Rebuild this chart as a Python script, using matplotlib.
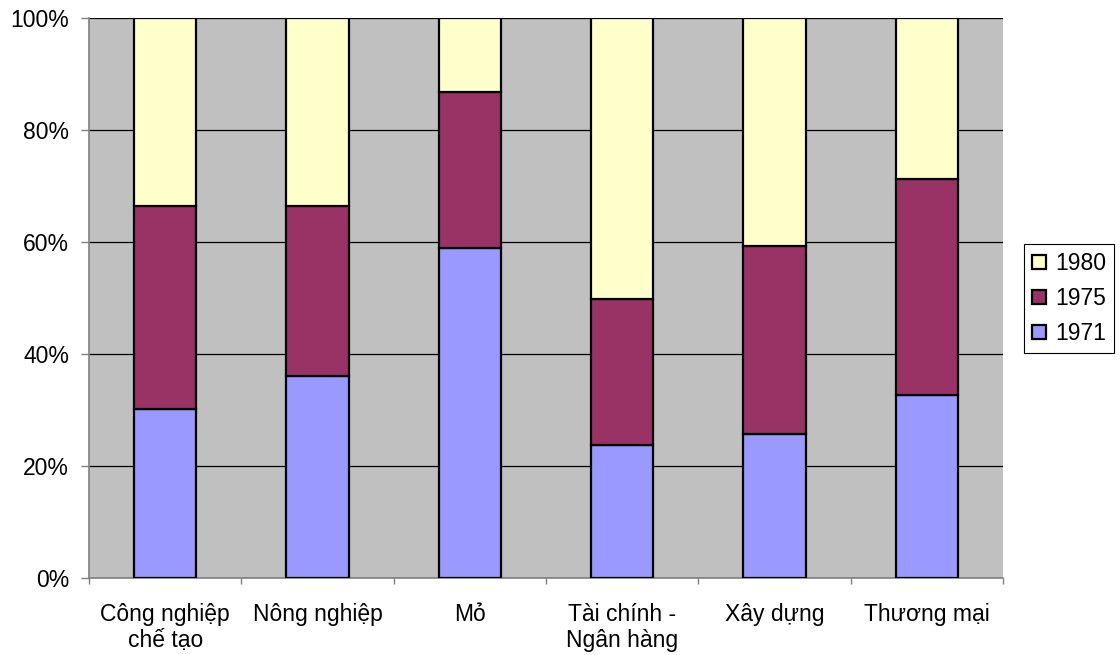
import matplotlib
matplotlib.use("Agg")
import matplotlib.pyplot as plt
import numpy as np

categories = ["Công nghiệp\nchế tạo", "Nông nghiệp", "Mỏ", "Tài chính -\nNgân hàng", "Xây dựng", "Thương mại"]
v1971 = [30.1, 36.0, 59.0, 23.8, 25.8, 32.6]
v1975 = [36.4, 30.4, 27.7, 26.1, 33.4, 38.7]
v1980 = [33.5, 33.6, 13.3, 50.1, 40.8, 28.7]
series_names = ["1971", "1975", "1980"]
colors = ["#9999FF", "#993366", "#FFFFCC"]

plt.rcParams['font.family'] = ['Liberation Sans', 'DejaVu Sans']
plt.rcParams['font.size'] = 16.5

fig = plt.figure(figsize=(11.2, 6.55), dpi=100)
ax = fig.add_axes([89/1120, 1-578/655, (1003-89)/1120, (578-18)/655])
ax.set_facecolor("#C0C0C0")

x = np.arange(len(categories))
data = [v1971, v1975, v1980]
bottom = np.zeros(len(categories))
handles = []
for name, vals, c in zip(series_names, data, colors):
    b = ax.bar(x, vals, bottom=bottom, width=0.41, color=c, edgecolor="black",
               linewidth=1.6, label=name, zorder=3)
    handles.append(b)
    bottom += np.array(vals)

ax.set_xlim(-0.5, len(categories) - 0.5)
ax.set_ylim(0, 100)
ax.set_yticks(np.arange(0, 101, 20))
ax.set_yticklabels([f"{v}%" for v in range(0, 101, 20)])
ax.yaxis.grid(True, color="black", linewidth=0.9, zorder=1)
ax.set_axisbelow(True)

ax.set_xticks(x)
ax.set_xticklabels(categories, linespacing=1.17)
ax.tick_params(axis='x', length=0, pad=18)
ax.set_xticks(np.arange(-0.5, len(categories), 1.0), minor=True)
ax.tick_params(axis='x', which='minor', length=4.5, color="#808080", width=1)
ax.tick_params(axis='y', length=5.8, color="#808080", width=1, pad=8.6)

for s in ["top", "right"]:
    ax.spines[s].set_visible(False)
for s in ["left", "bottom"]:
    ax.spines[s].set_color("#808080")
    ax.spines[s].set_linewidth(1.2)

leg = fig.legend(handles[::-1], series_names[::-1], loc="upper left",
                 bbox_to_anchor=(1024/1120, 1-244/655), frameon=True,
                 fancybox=False, edgecolor="black", framealpha=1,
                 handlelength=0.6, handleheight=0.6, handletextpad=0.4,
                 borderpad=0.35, labelspacing=0.52, borderaxespad=0)
leg.get_frame().set_linewidth(0.8)

fig.savefig("out.png", dpi=100)
